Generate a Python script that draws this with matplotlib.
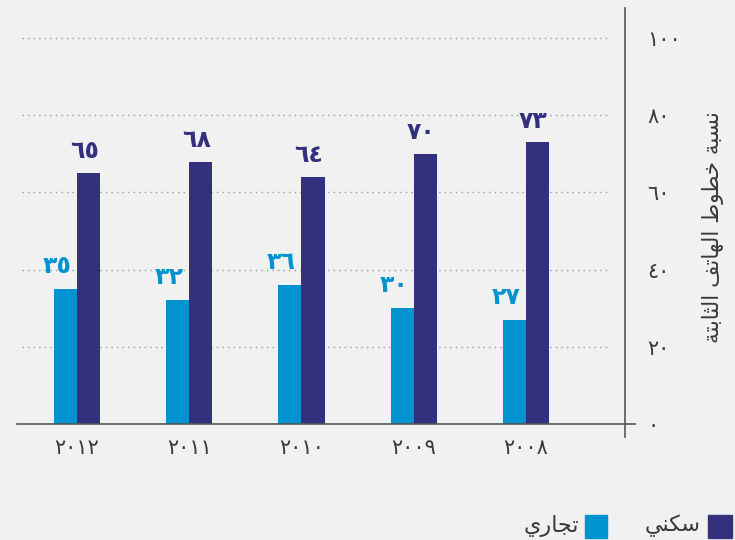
import matplotlib
matplotlib.use('Agg')
import matplotlib.pyplot as plt
from matplotlib.patches import Rectangle

# data
years = ['٢٠١٢', '٢٠١١', '٢٠١٠', '٢٠٠٩', '٢٠٠٨']
commercial = [35, 32, 36, 30, 27]
residential = [65, 68, 64, 70, 73]
commercial_lbl = ['٣٥', '٣٢', '٣٦', '٣٠', '٢٧']
residential_lbl = ['٦٥', '٦٨', '٦٤', '٧٠', '٧٣']
yticks = [0, 20, 40, 60, 80, 100]
ytick_lbl = ['٠', '٢٠', '٤٠', '٦٠', '٨٠', '١٠٠']
ylabel = 'نسبة خطوط الهاتف الثابتة'
name_commercial = 'تجاري'
name_residential = 'سكني'

light = '#0093d0'
dark = '#33317d'
bg = '#f1f1f1'
txt = '#3a3a3a'

# tiny arabic shaper: (isolated, final, initial, medial); non-joining letters have only 2
forms = {
    'ا': (0xFE8D, 0xFE8E), 'ة': (0xFE93, 0xFE94), 'ر': (0xFEAD, 0xFEAE),
    'و': (0xFEED, 0xFEEE),
    'ب': (0xFE8F, 0xFE90, 0xFE91, 0xFE92), 'ت': (0xFE95, 0xFE96, 0xFE97, 0xFE98),
    'ث': (0xFE99, 0xFE9A, 0xFE9B, 0xFE9C), 'ج': (0xFE9D, 0xFE9E, 0xFE9F, 0xFEA0),
    'خ': (0xFEA5, 0xFEA6, 0xFEA7, 0xFEA8), 'س': (0xFEB1, 0xFEB2, 0xFEB3, 0xFEB4),
    'ط': (0xFEC1, 0xFEC2, 0xFEC3, 0xFEC4), 'ف': (0xFED1, 0xFED2, 0xFED3, 0xFED4),
    'ك': (0xFED9, 0xFEDA, 0xFEDB, 0xFEDC), 'ل': (0xFEDD, 0xFEDE, 0xFEDF, 0xFEE0),
    'ن': (0xFEE5, 0xFEE6, 0xFEE7, 0xFEE8), 'ه': (0xFEE9, 0xFEEA, 0xFEEB, 0xFEEC),
    'ي': (0xFEF1, 0xFEF2, 0xFEF3, 0xFEF4),
}


def shape(s):
    out = []
    for i, c in enumerate(s):
        if c not in forms:
            out.append(c)
            continue
        prev = s[i - 1] if i > 0 else ' '
        nxt = s[i + 1] if i + 1 < len(s) else ' '
        join_prev = prev in forms and len(forms[prev]) == 4
        join_next = nxt in forms and len(forms[c]) == 4
        f = forms[c]
        if join_prev and join_next:
            out.append(chr(f[3]))
        elif join_prev:
            out.append(chr(f[1]))
        elif join_next:
            out.append(chr(f[2]))
        else:
            out.append(chr(f[0]))
    return ''.join(out)[::-1]


plt.rcParams['font.family'] = ['DejaVu Sans']

fig = plt.figure(figsize=(7.35, 5.4), dpi=100, facecolor=bg)
ax = fig.add_axes([17 / 735, 1 - 437 / 540, 608 / 735, 429 / 540])
ax.set_facecolor(bg)

x = list(range(len(years)))
w = 0.205
ax.bar([i - w / 2 for i in x], commercial, width=w, color=light, zorder=3)
ax.bar([i + w / 2 for i in x], residential, width=w, color=dark, zorder=3)

for i in x:
    ax.annotate(commercial_lbl[i], (i - w / 2, commercial[i]), xytext=(-6, 8),
                textcoords='offset points', ha='center', va='bottom',
                color=light, fontsize=17, fontweight='bold')
    ax.annotate(residential_lbl[i], (i + w / 2, residential[i]), xytext=(-3, 7),
                textcoords='offset points', ha='center', va='bottom',
                color=dark, fontsize=17, fontweight='bold')

ax.set_xlim(-0.5345, 4.882)
ax.set_ylim(-3.4, 107.8)

for v in yticks[1:]:
    ax.axhline(v, xmin=0.008, xmax=0.975, color='#999999', lw=1,
               ls=(0, (1, 3)), zorder=1)
ax.axhline(0, xmin=0, xmax=1.0165, color='#555555', lw=1.2, zorder=4, clip_on=False)

for s in ['top', 'left', 'bottom']:
    ax.spines[s].set_visible(False)
ax.spines['right'].set_color('#555555')
ax.spines['right'].set_linewidth(1.2)

ax.yaxis.tick_right()
ax.set_yticks(yticks)
ax.set_yticklabels(ytick_lbl, fontsize=15, color=txt)
ax.tick_params(axis='y', length=0, pad=16)
ax.set_xticks(x)
ax.set_xticklabels(years, fontsize=15, color=txt)
ax.tick_params(axis='x', length=0, pad=1)

fig.text(713 / 735, 1 - 227 / 540, shape(ylabel), rotation=90, ha='center',
         va='center', fontsize=15.5, color=txt)

# legend
fig.patches.append(Rectangle((708 / 735, 1 - 538 / 540), 24 / 735, 23 / 540,
                             transform=fig.transFigure, color=dark))
fig.text(701 / 735, 1 - 526 / 540, shape(name_residential), ha='right', va='center',
         fontsize=16, color=txt)
fig.patches.append(Rectangle((585 / 735, 1 - 538 / 540), 22 / 735, 23 / 540,
                             transform=fig.transFigure, color=light))
fig.text(579 / 735, 1 - 526 / 540, shape(name_commercial), ha='right', va='center',
         fontsize=16, color=txt)

fig.savefig('out.png', dpi=100, facecolor=bg)
